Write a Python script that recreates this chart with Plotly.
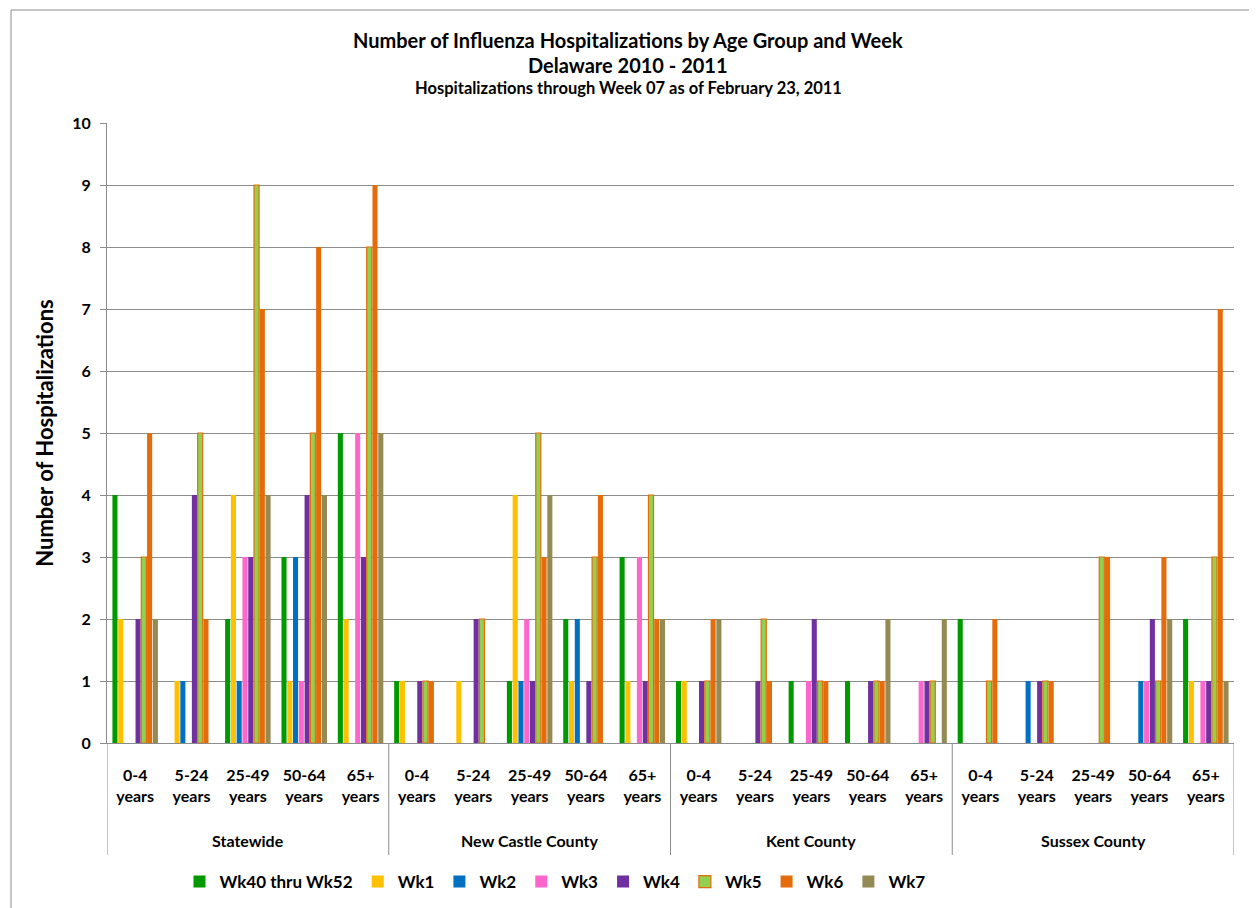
import plotly.graph_objects as go

regions = ["Statewide", "New Castle County", "Kent County", "Sussex County"]
ages = ["0-4<br>years", "5-24<br>years", "25-49<br>years", "50-64<br>years", "65+<br>years"]

series_names = ["Wk40 thru Wk52", "Wk1", "Wk2", "Wk3", "Wk4", "Wk5", "Wk6", "Wk7"]
colors = ["#009900", "#FFC000", "#0070C0", "#FF66CC", "#7030A0", "#92D050", "#E46C0A", "#948A54"]

# values per series: 20 categories (Statewide 5 ages, New Castle 5, Kent 5, Sussex 5)
wk40 = [4, 0, 2, 3, 5,  1, 0, 1, 2, 3,  1, 0, 1, 1, 0,  2, 0, 0, 0, 2]
wk1  = [2, 1, 4, 1, 2,  1, 1, 4, 1, 1,  1, 0, 0, 0, 0,  0, 0, 0, 0, 1]
wk2  = [0, 1, 1, 3, 0,  0, 0, 1, 2, 0,  0, 0, 0, 0, 0,  0, 1, 0, 1, 0]
wk3  = [0, 0, 3, 1, 5,  0, 0, 2, 0, 3,  0, 0, 1, 0, 1,  0, 0, 0, 1, 1]
wk4  = [2, 4, 3, 4, 3,  1, 2, 1, 1, 1,  1, 1, 2, 1, 1,  0, 1, 0, 2, 1]
wk5  = [3, 5, 9, 5, 8,  1, 2, 5, 3, 4,  1, 2, 1, 1, 1,  1, 1, 3, 1, 3]
wk6  = [5, 2, 7, 8, 9,  1, 0, 3, 4, 2,  2, 1, 1, 1, 0,  2, 1, 3, 3, 7]
wk7  = [2, 0, 4, 4, 5,  0, 0, 4, 0, 2,  2, 0, 0, 2, 2,  0, 0, 0, 2, 1]
values = [wk40, wk1, wk2, wk3, wk4, wk5, wk6, wk7]

title_lines = ["Number of Influenza Hospitalizations by Age Group and Week",
               "Delaware 2010 - 2011",
               "Hospitalizations through Week 07 as of February 23, 2011"]
y_title = "Number of Hospitalizations"

# unique category keys and their tick labels
cat_keys = [f"{r}|{a}" for r in regions for a in ages]
cat_text = [f"<b>{a}</b>" for r in regions for a in ages]

FONT = "Lato"
OFF = 8  # page body margin: figure is drawn 8px from the window's top-left
W, H = 1257 - OFF, 908 - OFF
L, T = 107 - OFF, 123 - OFF
PW, PH = 1127, 620
R, B = W - L - PW, H - T - PH


def py(ypix):  # window pixel y -> paper y
    return (T + PH - (ypix - OFF)) / PH


def pxx(xpix):  # window pixel x -> paper x
    return ((xpix - OFF) - L) / PW


fig = go.Figure()
for name, col, vals in zip(series_names, colors, values):
    line = dict(color="#E46C0A", width=1.2) if name == "Wk5" else dict(width=0)
    fig.add_trace(go.Bar(
        x=cat_keys, y=vals, name=name,
        marker=dict(color=col, line=line),
    ))

fig.update_layout(
    width=W, height=H,
    barmode="group", bargap=0.18, bargroupgap=0.12,
    plot_bgcolor="white", paper_bgcolor="white",
    margin=dict(l=L, r=R, t=T, b=B, autoexpand=False),
    font=dict(family=FONT, color="black", size=14),
    legend=dict(
        orientation="h", x=pxx(555), xanchor="center", y=py(882), yanchor="middle",
        font=dict(family=FONT, size=17, color="black", weight="bold"),
        traceorder="normal", itemwidth=30, tracegroupgap=0,
    ),
    showlegend=True,
)

fig.update_yaxes(
    range=[0, 10], dtick=1, tick0=0, automargin=False,
    showgrid=True, gridcolor="#8C8C8C", gridwidth=1,
    showline=True, linecolor="#8C8C8C", linewidth=1,
    ticks="outside", ticklen=6, tickcolor="#8C8C8C",
    ticklabelstandoff=6,
    tickfont=dict(family=FONT, size=16, color="black", weight="bold"),
    title=dict(text=y_title, font=dict(family=FONT, size=22, color="black", weight="bold"), standoff=12),
    zeroline=False,
)
fig.update_xaxes(
    type="category", automargin=False,
    categoryorder="array", categoryarray=cat_keys,
    tickvals=cat_keys, ticktext=cat_text,
    range=[-0.5, len(cat_keys) - 0.5],
    showline=True, linecolor="#8C8C8C", linewidth=1,
    ticks="", ticklabelstandoff=18,
    tickfont=dict(family=FONT, size=16, color="black"),
)

# title lines
for txt, ypix, size in zip(title_lines, [40, 65, 88], [20, 20, 16.5]):
    fig.add_annotation(text=f"<b>{txt}</b>", xref="paper", yref="paper",
                       x=pxx(628), y=py(ypix), xanchor="center", yanchor="middle",
                       showarrow=False, font=dict(family=FONT, size=size, color="black"))

# region labels and dividers of the grouped category axis
n_age = len(ages)
for i, reg in enumerate(regions):
    fig.add_annotation(text=f"<b>{reg}</b>", xref="x", yref="paper",
                       x=cat_keys[i * n_age + n_age // 2], y=py(841),
                       xanchor="center", yanchor="middle", showarrow=False,
                       font=dict(family=FONT, size=16, color="black"))
for i in range(len(regions) + 1):
    xb = i * n_age - 0.5
    fig.add_shape(type="line", xref="x", yref="paper", x0=xb, x1=xb,
                  y0=0, y1=py(855), line=dict(color="#8C8C8C", width=1))

# outer chart border
fig.add_shape(type="rect", xref="paper", yref="paper",
              x0=pxx(11), x1=pxx(1254),
              y0=py(915), y1=py(10),
              line=dict(color="#8C8C8C", width=1), fillcolor="rgba(0,0,0,0)", layer="below")

fig.write_html("out.html")
